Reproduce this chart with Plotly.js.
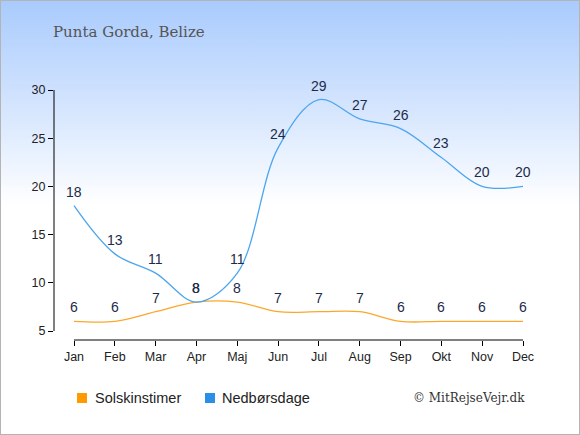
<!DOCTYPE html>
<html>
<head>
<meta charset="utf-8">
<script src="https://cdn.plot.ly/plotly-3.0.1.min.js"></script>
<style>
html,body{margin:0;padding:0;}
#wrap{position:relative;width:580px;height:435px;box-sizing:border-box;border:1px solid #b4b4b4;
background:linear-gradient(to bottom,#a9cbfd 0px,#d6e6fe 110px,#ffffff 205px,#ffffff 435px);}
#chart{position:absolute;left:-1px;top:-1px;width:580px;height:435px;}
</style>
</head>
<body>
<div id="wrap"><div id="chart"></div></div>
<script>
const months = ["Jan","Feb","Mar","Apr","Maj","Jun","Jul","Aug","Sep","Okt","Nov","Dec"];
const sunHours = [6,6,7,8,8,7,7,7,6,6,6,6];
const rainDays = [18,13,11,8,11,24,29,27,26,23,20,20];
const yTicks = [5,10,15,20,25,30];
const seriesNames = ["Solskinstimer","Nedbørsdage"];
const titleText = "Punta Gorda, Belize";
const creditText = "© MitRejseVejr.dk";

const labelFont = {family:"Liberation Sans, Arial, sans-serif", size:14, color:"#1d2b4a"};

const traces = [
  {x:months, y:sunHours, type:"scatter", mode:"lines", name:seriesNames[0],
   line:{color:"#fca72c", width:1.3, shape:"spline", smoothing:1},
   showlegend:false, hoverinfo:"skip"},
  {x:months, y:rainDays, type:"scatter", mode:"lines", name:seriesNames[1],
   line:{color:"#4da5ef", width:1.3, shape:"spline", smoothing:1},
   showlegend:false, hoverinfo:"skip"}
];

function valueLabels(vals){
  return vals.map((v,i)=>({text:String(v), xref:"x", yref:"y", x:months[i], y:v,
    xanchor:"center", yanchor:"bottom", yshift:4, showarrow:false, font:labelFont}));
}

const layout = {
  width:580, height:435,
  paper_bgcolor:"rgba(0,0,0,0)", plot_bgcolor:"rgba(0,0,0,0)",
  margin:{l:54, r:37, t:90, b:95},
  showlegend:false,
  xaxis:{type:"category", range:[-0.49,11.49], showgrid:false, zeroline:false, showline:false,
    ticks:"outside", ticklen:5, tickcolor:"#000", tickwidth:1,
    tickfont:{family:"Liberation Sans, Arial, sans-serif", size:12.5, color:"#222"}, fixedrange:true},
  yaxis:{range:[4.066,30], tickvals:yTicks, showgrid:false, zeroline:false, showline:false,
    ticks:"outside", ticklen:5, tickcolor:"#000", tickwidth:1,
    tickfont:{family:"Liberation Sans, Arial, sans-serif", size:12.5, color:"#222"}, fixedrange:true},
  shapes:[
    {type:"line", xref:"paper", yref:"y", x0:0, x1:0, y0:yTicks[0], y1:yTicks[yTicks.length-1],
     line:{color:"#000", width:1}},
    {type:"line", xref:"x", yref:"paper", x0:0, x1:months.length-1, y0:0, y1:0,
     line:{color:"#000", width:1}},
    {type:"rect", xref:"paper", yref:"paper", x0:(77-54)/489, x1:(87-54)/489, y0:-(393-340)/250, y1:-(403-340)/250,
     fillcolor:"#ff9a00", line:{width:0}},
    {type:"rect", xref:"paper", yref:"paper", x0:(205-54)/489, x1:(215-54)/489, y0:-(393-340)/250, y1:-(403-340)/250,
     fillcolor:"#2b8fe6", line:{width:0}}
  ],
  annotations:[
    {text:titleText, xref:"paper", yref:"paper", x:(51-54)/489, y:(340-32)/250, xanchor:"left", yanchor:"middle",
     showarrow:false, font:{family:"DejaVu Serif, serif", size:15, color:"#555"}},
    {text:seriesNames[0], xref:"paper", yref:"paper", x:(93-54)/489, y:-(398-340)/250, xanchor:"left", yanchor:"middle",
     showarrow:false, font:{family:"Liberation Sans, Arial, sans-serif", size:14.5, color:"#222"}},
    {text:seriesNames[1], xref:"paper", yref:"paper", x:(220-54)/489, y:-(398-340)/250, xanchor:"left", yanchor:"middle",
     showarrow:false, font:{family:"Liberation Sans, Arial, sans-serif", size:14.5, color:"#222"}},
    {text:creditText, xref:"paper", yref:"paper", x:(527-54)/489, y:-(398-340)/250, xanchor:"right", yanchor:"middle",
     showarrow:false, font:{family:"DejaVu Serif, serif", size:12, color:"#333"}}
  ].concat(valueLabels(sunHours), valueLabels(rainDays))
};

Plotly.newPlot("chart", traces, layout, {displayModeBar:false, staticPlot:true});
</script>
</body>
</html>
